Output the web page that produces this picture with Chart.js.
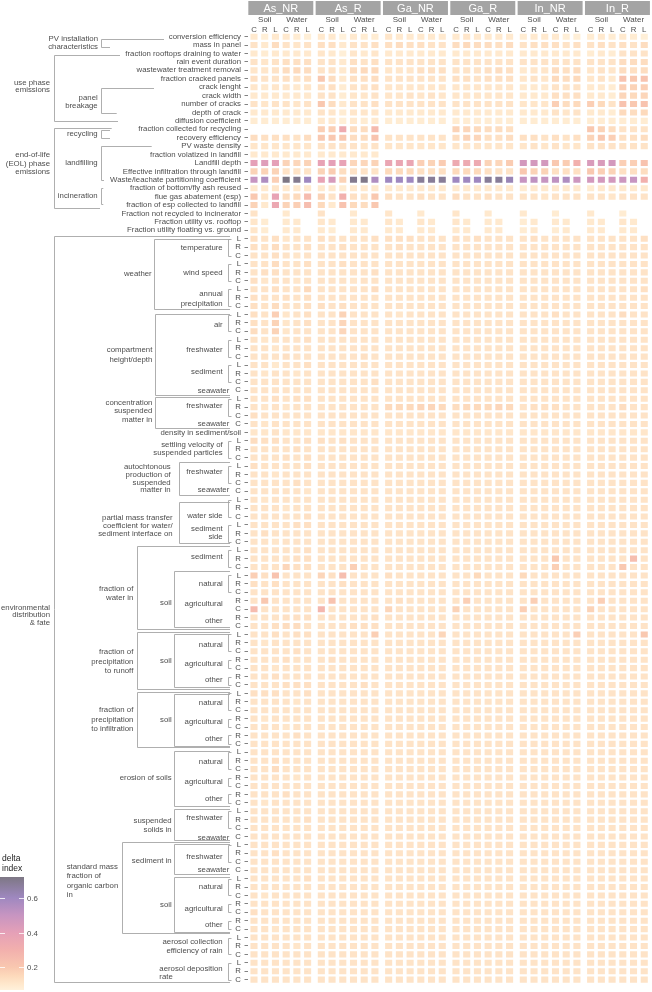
<!DOCTYPE html>
<html><head><meta charset="utf-8">
<script src="https://cdn.jsdelivr.net/npm/chart.js@4.4.1/dist/chart.umd.min.js"></script>
<style>html,body{margin:0;padding:0;background:#fff}canvas{display:block}</style>
</head><body>
<canvas id="c" width="652" height="992"></canvas>
<script>
const _ = null;
const panels = ['As_NR','As_R','Ga_NR','Ga_R','In_NR','In_R'];
const media = ['Soil','Water'];
const subCols = ['C','R','L','C','R','L'];
const rowLabels = [
'conversion efficiency','mass in panel','fraction rooftops draining to water','rain event duration','wastewater treatment removal','fraction cracked panels','crack lenght','crack width','number of cracks','depth of crack','diffusion coefficient','fraction collected for recycling','recovery efficiency','PV waste density','fraction volatized in landfill','Landfill depth','Effective infiltration through landfill','Waste/leachate partitioning coefficient','fraction of bottom/fly ash reused','flue gas abatement (esp)','fraction of esp collected to landfill','Fraction not recycled to incinerator','Fraction utility vs. rooftop','Fraction utility floating vs. ground',
'L','R','C','L','R','C','L','R','C',
'L','R','C','L','R','C','L','R','C','C',
'L','R','C','C',
'density in sediment/soil',
'L','R','C',
'L','R','C','C',
'L','R','C','L','R','C',
'L','R','C','L','R','C','R','C','R','C',
'L','R','C','R','C','R','C',
'L','R','C','R','C','R','C',
'L','R','C','R','C','R','C',
'L','R','C','C',
'L','R','C','C','L','R','C','R','C','R','C',
'L','R','C','L','R','C'];

// delta index per panel: rows (top to bottom) x columns [Soil C,R,L, Water C,R,L]
const As_NR = [
[.10,.08,.10,.10,.09,.08],[.12,.10,.14,.12,.11,.12],[.10,.09,.10,.10,.10,.10],[.12,.11,.12,.13,.13,.13],
[.11,.11,.12,.14,.15,.14],[.13,.12,.12,.13,.12,.13],[.11,.10,.11,.11,.10,.11],[.10,.10,.10,.10,.10,.10],
[.12,.11,.12,.12,.11,.12],[.10,.10,.10,.10,.10,.10],[.09,.09,.09,.09,.09,.09],[_,_,_,_,_,_],
[.14,.13,.13,.13,.12,.14],[.11,.11,.11,.11,.11,.11],[.10,.10,.10,.10,.10,.10],[.40,.42,.40,.17,.16,.17],
[.17,.17,.17,.12,.12,.12],[.50,.56,.18,.72,.70,.60],[.10,.10,.11,.10,.10,.10],[.20,.11,.38,.14,.15,.25],
[.17,.10,.35,.17,.18,.24],[.12,_,_,.10,_,_],[.11,.09,_,.10,.10,_],[.11,.09,_,.10,.10,_],
[.13,.12,.13,.11,.12,.12],[.13,.12,.14,.12,.12,.13],[.12,.12,.13,.12,.11,.12],
[.12,.12,.14,.12,.12,.13],[.12,.13,.13,.12,.12,.12],[.13,.11,.12,.12,.11,.12],
[.12,.12,.13,.12,.12,.15],[.13,.12,.12,.13,.12,.13],[.13,.12,.14,.12,.12,.13],
[.13,.12,.18,.11,.12,.13],[.13,.12,.17,.11,.12,.13],[.14,.12,.17,.11,.12,.12],
[.12,.11,.12,.12,.12,.13],[.12,.12,.11,.12,.12,.12],[.12,.12,.12,.13,.12,.12],
[.12,.12,.10,.12,.12,.13],[.12,.11,.12,.12,.11,.12],[.12,.12,.12,.12,.12,.12],[.12,.12,.12,.12,.12,.12],
[.12,.12,.13,.12,.13,.13],[.12,.11,.12,.11,.12,.12],[.13,.12,.12,.12,.12,.12],[.12,.11,.12,.12,.12,.12],
[.11,.11,.12,.11,.11,.11],
[.14,.13,.13,.12,.12,.13],[.12,.12,.12,.12,.13,.12],[.12,.12,.12,.13,.12,.13],
[.13,.12,.12,.12,.12,.13],[.12,.12,.11,.12,.12,.12],[.12,.12,.12,.12,.13,.12],[.12,.12,.12,.12,.12,.11],
[.12,.11,.12,.12,.12,.12],[.12,.12,.12,.11,.12,.12],[.12,.12,.12,.12,.12,.13],
[.12,.12,.12,.12,.13,.13],[.12,.13,.12,.12,.12,.12],[.12,.12,.11,.12,.12,.12],
[.12,.12,.12,.12,.12,.13],[.12,.12,.12,.12,.13,.13],[.12,.12,.12,.16,.13,.13],
[.18,.13,.22,.12,.12,.12],[.13,.12,.13,.12,.12,.12],[.12,.12,.12,.12,.12,.12],
[.12,.20,.12,.12,.12,.12],[.25,.12,.12,.12,.12,.12],[.12,.12,.12,.13,.13,.13],[.12,.12,.13,.14,.14,.12],
[.12,.12,.13,.12,.13,.13],[.12,.11,.12,.12,.12,.12],[.12,.12,.12,.12,.13,.12],
[.12,.12,.12,.13,.12,.12],[.12,.12,.11,.12,.12,.12],[.12,.12,.13,.12,.12,.12],[.12,.12,.12,.13,.13,.13],
[.13,.13,.13,.12,.12,.13],[.12,.12,.12,.12,.11,.12],[.12,.12,.12,.12,.12,.12],
[.12,.11,.12,.12,.12,.12],[.12,.12,.12,.11,.12,.12],[.12,.12,.12,.12,.13,.12],[.12,.12,.12,.12,.12,.12],
[.12,.12,.12,.12,.12,.12],[.12,.12,.13,.12,.12,.12],[.12,.12,.14,.12,.12,.12],
[.12,.12,.12,.12,.11,.12],[.12,.12,.12,.12,.12,.12],[.12,.12,.12,.13,.12,.12],[.12,.11,.12,.12,.12,.12],
[.12,.12,.12,.12,.12,.12],[.12,.12,.12,.12,.12,.13],[.12,.12,.12,.12,.12,.12],[.12,.12,.12,.12,.12,.12],
[.12,.12,.12,.12,.12,.12],[.12,.12,.13,.12,.12,.12],[.12,.12,.12,.12,.12,.12],[.12,.12,.12,.12,.12,.12],
[.12,.12,.12,.12,.12,.13],[.12,.12,.12,.12,.12,.12],[.12,.11,.12,.12,.12,.12],
[.12,.12,.12,.12,.12,.12],[.13,.12,.12,.12,.12,.12],[.12,.12,.12,.12,.12,.12],[.12,.12,.11,.12,.12,.12],
[.12,.12,.12,.12,.12,.12],[.12,.12,.12,.12,.11,.12],[.12,.12,.12,.12,.12,.12],
[.12,.12,.12,.12,.12,.12],[.12,.12,.12,.12,.12,.12],[.12,.12,.12,.12,.12,.12]];

const As_R = [
[.10,.10,.07,.10,.09,.09],[.13,.13,.10,.12,.12,.13],[.11,.10,.08,.11,.10,.11],[.12,.12,.10,.13,.12,.13],
[.12,.12,.10,.14,.15,.15],[.20,.14,.10,.13,.13,.14],[.13,.13,.09,.12,.12,.13],[.12,.12,.09,.11,.11,.12],
[.20,.14,.10,.12,.12,.13],[.12,.11,.09,.11,.11,.11],[.10,.10,.08,.10,.09,.10],[.18,.18,.33,.14,.14,.26],
[.20,.20,.20,.14,.14,.22],[.12,.12,.12,.12,.11,.12],[.10,.10,.10,.10,.10,.10],[.38,.40,.38,.16,.16,.17],
[.17,.19,.14,.12,.12,.12],[.38,.45,.17,.70,.71,.56],[.10,.10,.09,.10,.10,.10],[.17,.12,.30,.13,.12,.20],
[.15,.10,.22,.15,.14,.20],[.12,_,_,.10,_,_],[.11,.10,_,.10,.10,_],[.10,.09,_,.10,.10,_],
[.13,.12,.12,.12,.12,.13],[.12,.12,.13,.12,.12,.12],[.12,.12,.12,.12,.12,.12],
[.12,.12,.13,.12,.12,.12],[.12,.12,.12,.12,.12,.13],[.12,.12,.12,.11,.12,.12],
[.12,.12,.12,.12,.12,.14],[.12,.12,.12,.12,.12,.12],[.13,.12,.13,.12,.12,.12],
[.12,.12,.17,.12,.12,.12],[.12,.12,.16,.12,.12,.12],[.12,.12,.16,.12,.12,.12],
[.12,.12,.12,.12,.12,.12],[.12,.12,.12,.12,.12,.12],[.12,.12,.12,.12,.13,.12],
[.12,.12,.12,.12,.12,.12],[.12,.12,.12,.12,.12,.12],[.12,.12,.12,.12,.12,.13],[.12,.12,.12,.12,.12,.12],
[.12,.12,.12,.12,.12,.12],[.12,.12,.12,.12,.12,.12],[.12,.12,.12,.12,.12,.12],[.12,.12,.12,.12,.12,.12],
[.11,.11,.11,.11,.11,.11],
[.13,.12,.13,.12,.12,.12],[.12,.12,.12,.12,.12,.12],[.12,.12,.12,.12,.12,.12],
[.12,.12,.12,.12,.12,.12],[.12,.12,.12,.12,.12,.12],[.12,.12,.12,.12,.12,.12],[.12,.12,.12,.12,.12,.12],
[.12,.12,.12,.12,.12,.12],[.12,.12,.12,.12,.12,.12],[.12,.12,.12,.12,.12,.12],
[.12,.12,.12,.12,.12,.12],[.12,.12,.12,.12,.12,.12],[.12,.12,.12,.12,.12,.12],
[.12,.12,.12,.12,.12,.12],[.12,.12,.12,.12,.12,.12],[.12,.12,.12,.18,.12,.12],
[.16,.13,.24,.12,.12,.12],[.12,.12,.13,.12,.12,.12],[.12,.12,.12,.12,.12,.12],
[.12,.22,.12,.12,.12,.12],[.27,.12,.12,.12,.12,.12],[.12,.12,.12,.12,.12,.13],[.12,.12,.12,.13,.13,.13],
[.12,.12,.12,.12,.12,.18],[.12,.12,.12,.12,.12,.12],[.12,.12,.12,.12,.12,.12],
[.12,.13,.12,.12,.12,.12],[.12,.12,.12,.12,.12,.12],[.12,.12,.12,.12,.12,.12],[.12,.12,.12,.12,.13,.12],
[.12,.12,.12,.12,.12,.12],[.12,.12,.12,.12,.12,.12],[.12,.12,.12,.12,.12,.12],
[.12,.12,.12,.12,.12,.12],[.12,.12,.12,.12,.12,.12],[.12,.12,.12,.12,.12,.12],[.12,.12,.12,.12,.12,.12],
[.12,.12,.12,.12,.12,.12],[.12,.12,.12,.12,.12,.12],[.12,.12,.12,.12,.12,.12],
[.12,.12,.12,.12,.12,.12],[.12,.12,.12,.12,.12,.12],[.12,.12,.12,.12,.12,.12],[.12,.12,.12,.12,.12,.12],
[.12,.12,.12,.12,.12,.12],[.12,.12,.12,.12,.12,.12],[.12,.12,.12,.12,.12,.12],[.12,.12,.12,.12,.12,.12],
[.12,.12,.12,.12,.12,.12],[.12,.12,.12,.12,.12,.12],[.12,.12,.12,.12,.12,.12],[.12,.12,.12,.12,.12,.12],
[.12,.12,.12,.12,.12,.12],[.12,.12,.12,.12,.12,.12],[.12,.12,.12,.12,.12,.12],
[.12,.12,.12,.12,.12,.12],[.12,.12,.12,.12,.12,.12],[.12,.12,.12,.12,.12,.12],[.12,.12,.12,.12,.12,.12],
[.12,.12,.12,.12,.12,.12],[.12,.12,.12,.12,.12,.12],[.12,.12,.12,.12,.12,.12],
[.12,.12,.12,.12,.12,.12],[.12,.12,.12,.12,.12,.12],[.12,.12,.12,.12,.12,.12]];

const Ga_NR = [
[.11,.10,.10,.10,.10,.10],[.13,.14,.13,.13,.12,.12],[.10,.10,.10,.10,.10,.10],[.12,.12,.12,.12,.12,.12],
[.11,.11,.11,.13,.13,.13],[.12,.12,.12,.12,.12,.12],[.11,.11,.11,.11,.11,.11],[.11,.11,.12,.11,.12,.11],
[.12,.12,.12,.12,.12,.12],[.10,.10,.10,.10,.10,.10],[.09,.09,.09,.09,.09,.09],[_,_,_,_,_,_],
[.12,.12,.12,.12,.12,.12],[.11,.11,.11,.11,.11,.11],[_,_,_,_,_,_],[.36,.36,.36,.18,.17,.19],
[.15,.15,.15,.13,.13,.13],[.60,.60,.60,.68,.68,.68],[.10,.10,.10,.10,.10,.10],[.13,.12,.12,.13,.12,.12],
[_,_,_,_,_,_],[.11,_,_,.10,_,_],[.11,.10,_,.11,.10,_],[.10,.10,_,.10,.10,_],
[.13,.13,.13,.12,.12,.12],[.12,.13,.12,.12,.12,.12],[.12,.12,.12,.12,.12,.12],
[.12,.12,.12,.12,.12,.12],[.12,.12,.12,.12,.12,.12],[.12,.12,.12,.12,.12,.12],
[.12,.12,.12,.12,.12,.12],[.12,.12,.12,.12,.12,.12],[.12,.12,.12,.12,.12,.12],
[.12,.11,.12,.12,.12,.12],[.12,.12,.12,.12,.12,.12],[.12,.12,.12,.12,.12,.12],
[.12,.12,.12,.12,.12,.12],[.12,.12,.12,.12,.12,.12],[.12,.12,.12,.12,.12,.12],
[.12,.12,.12,.12,.12,.12],[.12,.12,.12,.12,.12,.12],[.12,.12,.12,.12,.12,.12],[.12,.12,.12,.12,.12,.12],
[.12,.12,.12,.12,.12,.12],[.15,.15,.15,.16,.16,.15],[.12,.12,.12,.12,.12,.12],[.12,.12,.12,.12,.12,.12],
[.11,.11,.11,.11,.11,.11],
[.12,.12,.12,.12,.12,.12],[.12,.12,.12,.12,.12,.12],[.12,.12,.12,.12,.12,.12],
[.12,.12,.12,.12,.12,.12],[.12,.12,.12,.12,.12,.12],[.12,.12,.12,.12,.12,.12],[.12,.12,.12,.12,.12,.12],
[.12,.12,.12,.12,.12,.12],[.12,.12,.12,.12,.12,.12],[.12,.12,.12,.12,.12,.12],
[.12,.12,.12,.12,.12,.12],[.12,.12,.12,.12,.12,.12],[.12,.12,.12,.12,.12,.12],
[.12,.12,.12,.12,.12,.12],[.12,.12,.12,.12,.12,.12],[.12,.12,.12,.12,.12,.12],
[.13,.12,.12,.12,.12,.12],[.12,.12,.12,.12,.12,.12],[.12,.12,.12,.12,.12,.12],
[.12,.13,.12,.12,.12,.12],[.16,.12,.12,.12,.12,.12],[.12,.12,.12,.12,.12,.12],[.12,.12,.12,.12,.12,.12],
[.12,.12,.12,.12,.12,.16],[.12,.12,.12,.12,.12,.12],[.12,.12,.12,.12,.12,.12],
[.12,.12,.12,.12,.12,.12],[.12,.12,.12,.12,.12,.12],[.12,.12,.12,.12,.12,.12],[.12,.12,.12,.12,.12,.12],
[.12,.12,.12,.12,.12,.12],[.12,.12,.12,.12,.12,.12],[.12,.12,.12,.12,.12,.12],
[.12,.12,.12,.12,.12,.12],[.12,.12,.12,.12,.12,.12],[.12,.12,.12,.12,.12,.12],[.12,.12,.12,.12,.12,.12],
[.12,.12,.12,.12,.12,.12],[.12,.12,.12,.12,.12,.12],[.12,.12,.12,.12,.12,.12],
[.12,.12,.12,.12,.12,.12],[.12,.12,.12,.12,.12,.12],[.12,.12,.12,.12,.12,.12],[.12,.12,.12,.12,.12,.12],
[.12,.12,.12,.12,.12,.12],[.12,.12,.12,.12,.12,.12],[.12,.12,.12,.12,.12,.12],[.12,.12,.12,.12,.12,.12],
[.12,.12,.12,.12,.12,.12],[.12,.12,.12,.12,.12,.12],[.12,.12,.12,.12,.12,.12],[.12,.12,.12,.12,.12,.12],
[.12,.12,.12,.12,.12,.12],[.12,.12,.12,.12,.12,.12],[.12,.12,.12,.12,.12,.12],
[.12,.12,.12,.12,.12,.12],[.12,.12,.12,.12,.12,.12],[.12,.12,.12,.12,.12,.12],[.12,.12,.12,.12,.12,.12],
[.12,.12,.12,.12,.12,.12],[.12,.12,.12,.12,.12,.12],[.12,.12,.12,.12,.12,.12],
[.12,.12,.12,.12,.12,.12],[.12,.12,.12,.12,.12,.12],[.12,.12,.12,.12,.12,.12]];

const Ga_R = [
[.10,.11,.10,.10,.10,.10],[.14,.15,.14,.14,.13,.14],[.10,.10,.10,.10,.10,.10],[.12,.12,.12,.12,.12,.12],
[.12,.12,.12,.13,.14,.13],[.13,.13,.12,.13,.13,.13],[.11,.11,.11,.11,.11,.11],[.11,.11,.11,.11,.11,.11],
[.12,.12,.12,.12,.12,.12],[.10,.10,.10,.10,.10,.10],[.09,.09,.09,.09,.09,.09],[.17,.16,.15,.14,.14,.13],
[.14,.17,.16,.13,.13,.14],[.11,.11,.11,.11,.11,.11],[_,_,_,_,_,_],[.34,.34,.34,.17,.16,.19],
[.15,.15,.15,.13,.12,.12],[.60,.60,.60,.68,.68,.62],[.10,.10,.10,.10,.10,.10],[.14,.12,.12,.13,.12,.12],
[_,_,_,_,_,_],[.11,_,_,.10,_,_],[.11,.10,_,.10,.10,_],[.10,.10,_,.10,.10,_],
[.13,.12,.13,.12,.12,.12],[.12,.12,.12,.12,.12,.12],[.12,.12,.12,.12,.12,.12],
[.12,.12,.12,.12,.12,.12],[.12,.12,.12,.12,.12,.12],[.12,.12,.12,.12,.12,.12],
[.12,.12,.12,.12,.12,.12],[.12,.12,.12,.12,.12,.12],[.12,.12,.12,.12,.12,.12],
[.12,.12,.12,.12,.12,.12],[.12,.12,.12,.12,.12,.12],[.12,.12,.12,.12,.12,.12],
[.12,.12,.12,.12,.12,.12],[.12,.12,.12,.12,.12,.12],[.12,.12,.12,.12,.12,.12],
[.12,.12,.12,.12,.12,.12],[.12,.12,.12,.12,.12,.12],[.12,.12,.12,.12,.12,.12],[.12,.12,.12,.12,.12,.12],
[.12,.12,.12,.12,.12,.12],[.14,.15,.15,.15,.16,.15],[.12,.12,.12,.12,.12,.12],[.12,.12,.12,.12,.12,.12],
[.11,.11,.11,.11,.11,.11],
[.12,.12,.12,.12,.12,.12],[.12,.12,.12,.12,.12,.12],[.12,.12,.12,.12,.12,.12],
[.12,.12,.12,.12,.12,.12],[.12,.12,.12,.12,.12,.12],[.12,.12,.12,.12,.12,.12],[.12,.12,.12,.12,.12,.12],
[.12,.12,.12,.12,.12,.12],[.12,.12,.12,.12,.12,.12],[.12,.12,.12,.12,.12,.12],
[.12,.12,.12,.12,.12,.12],[.12,.12,.12,.12,.12,.12],[.12,.12,.12,.12,.12,.12],
[.12,.12,.12,.12,.12,.12],[.12,.12,.12,.12,.12,.12],[.12,.12,.12,.12,.12,.12],
[.12,.12,.15,.12,.12,.12],[.12,.12,.12,.12,.12,.12],[.12,.12,.12,.12,.12,.12],
[.12,.18,.12,.12,.12,.12],[.17,.12,.12,.12,.12,.12],[.12,.12,.12,.12,.12,.12],[.12,.12,.12,.12,.12,.12],
[.12,.12,.12,.12,.12,.12],[.12,.12,.12,.12,.12,.12],[.12,.12,.12,.12,.12,.12],
[.12,.12,.12,.12,.12,.12],[.12,.12,.12,.12,.12,.12],[.12,.12,.12,.12,.12,.12],[.12,.12,.12,.12,.12,.12],
[.12,.12,.12,.12,.12,.12],[.12,.12,.12,.12,.12,.12],[.12,.12,.12,.12,.12,.12],
[.12,.12,.12,.12,.12,.12],[.12,.12,.12,.12,.12,.12],[.12,.12,.12,.12,.12,.12],[.12,.12,.12,.12,.12,.12],
[.12,.12,.12,.12,.12,.12],[.12,.12,.12,.12,.12,.12],[.12,.12,.12,.12,.12,.12],
[.12,.12,.12,.12,.12,.12],[.12,.12,.12,.12,.12,.12],[.12,.12,.12,.12,.12,.12],[.12,.12,.12,.12,.12,.12],
[.12,.12,.12,.12,.12,.12],[.12,.12,.12,.12,.12,.12],[.12,.12,.12,.12,.12,.12],[.12,.12,.12,.12,.12,.12],
[.12,.12,.12,.12,.12,.12],[.12,.12,.12,.12,.12,.12],[.12,.12,.12,.12,.12,.12],[.12,.12,.12,.12,.12,.12],
[.12,.12,.12,.12,.12,.12],[.12,.12,.12,.12,.12,.12],[.12,.12,.12,.12,.12,.12],
[.12,.12,.12,.12,.12,.12],[.12,.12,.12,.12,.12,.12],[.12,.12,.12,.12,.12,.12],[.12,.12,.12,.12,.12,.12],
[.12,.12,.12,.12,.12,.12],[.12,.12,.12,.12,.12,.12],[.12,.12,.12,.12,.12,.12],
[.12,.12,.12,.12,.12,.12],[.12,.12,.12,.12,.12,.12],[.12,.12,.12,.12,.12,.12]];

const In_NR = [
[.09,.10,.10,.10,.08,.08],[.12,.13,.13,.13,.12,.13],[.10,.10,.10,.10,.10,.10],[.12,.12,.12,.12,.12,.12],
[.10,.11,.11,.14,.13,.14],[.11,.12,.11,.15,.14,.15],[.10,.10,.10,.12,.12,.12],[.10,.10,.10,.13,.13,.13],
[.11,.11,.11,.18,.14,.15],[.10,.10,.10,.12,.11,.12],[.09,.09,.09,.09,.09,.09],[_,_,_,_,_,_],
[.13,.13,.12,.13,.12,.13],[.11,.12,.11,.12,.11,.11],[_,_,_,_,_,_],[.46,.46,.46,.20,.19,.30],
[.20,.17,.17,.13,.13,.13],[.50,.52,.50,.52,.56,.48],[.09,.10,.10,.10,.10,.10],[.12,.12,.11,.12,.12,.12],
[_,_,_,_,_,_],[.10,_,_,.09,_,_],[.09,.10,_,.10,.10,_],[.09,.10,_,.09,.10,_],
[.12,.13,.12,.12,.12,.12],[.12,.12,.12,.12,.12,.12],[.12,.12,.12,.12,.12,.12],
[.12,.12,.12,.12,.12,.12],[.12,.12,.12,.12,.12,.12],[.12,.12,.12,.12,.12,.12],
[.12,.12,.12,.12,.12,.12],[.12,.12,.12,.12,.12,.12],[.12,.12,.12,.12,.12,.12],
[.12,.12,.12,.13,.12,.12],[.12,.12,.12,.12,.12,.12],[.12,.12,.12,.12,.12,.12],
[.12,.12,.12,.12,.12,.12],[.12,.12,.12,.12,.12,.12],[.12,.12,.12,.12,.12,.12],
[.12,.12,.12,.12,.12,.12],[.12,.12,.12,.12,.12,.12],[.12,.12,.12,.12,.12,.12],[.12,.12,.12,.12,.12,.12],
[.12,.12,.12,.12,.12,.12],[.12,.13,.13,.13,.12,.12],[.12,.12,.12,.12,.12,.12],[.12,.12,.12,.12,.12,.12],
[.11,.11,.11,.11,.11,.11],
[.12,.12,.12,.12,.12,.12],[.12,.12,.12,.12,.12,.12],[.12,.12,.12,.12,.12,.12],
[.12,.12,.12,.12,.12,.12],[.12,.12,.12,.12,.12,.12],[.12,.12,.12,.12,.12,.12],[.12,.12,.12,.12,.12,.12],
[.12,.12,.12,.12,.12,.12],[.12,.12,.12,.12,.12,.12],[.12,.12,.12,.12,.12,.12],
[.12,.12,.12,.12,.12,.12],[.12,.12,.12,.12,.12,.12],[.12,.12,.12,.12,.12,.12],
[.12,.12,.12,.12,.12,.12],[.12,.12,.12,.20,.12,.12],[.12,.12,.12,.18,.12,.12],
[.15,.12,.12,.12,.12,.12],[.12,.12,.12,.12,.12,.12],[.12,.12,.12,.12,.12,.12],
[.12,.18,.12,.12,.12,.12],[.18,.12,.12,.12,.12,.12],[.12,.12,.12,.12,.12,.12],[.12,.12,.12,.12,.12,.12],
[.12,.12,.12,.12,.12,.18],[.12,.12,.12,.12,.12,.12],[.12,.12,.12,.12,.12,.12],
[.12,.12,.12,.12,.12,.12],[.12,.12,.12,.12,.12,.12],[.12,.12,.12,.12,.12,.12],[.12,.12,.12,.12,.12,.12],
[.12,.12,.12,.12,.12,.12],[.12,.12,.12,.12,.12,.12],[.12,.12,.12,.12,.12,.12],
[.12,.12,.12,.12,.12,.12],[.12,.12,.12,.12,.12,.12],[.12,.12,.12,.12,.12,.12],[.12,.12,.12,.12,.12,.12],
[.12,.12,.12,.12,.12,.12],[.12,.12,.12,.12,.12,.12],[.12,.12,.12,.12,.12,.12],
[.12,.12,.12,.12,.12,.12],[.12,.12,.12,.12,.12,.12],[.12,.12,.12,.12,.12,.12],[.12,.12,.12,.12,.12,.12],
[.12,.12,.12,.12,.12,.12],[.12,.12,.12,.12,.12,.12],[.12,.12,.12,.12,.12,.12],[.12,.12,.12,.12,.12,.12],
[.12,.12,.12,.12,.12,.12],[.12,.12,.12,.12,.12,.12],[.12,.12,.12,.12,.12,.12],[.12,.12,.12,.12,.12,.12],
[.12,.12,.12,.12,.12,.12],[.12,.12,.12,.12,.12,.12],[.12,.12,.12,.12,.12,.12],
[.12,.12,.12,.12,.12,.12],[.12,.12,.12,.12,.12,.12],[.12,.12,.12,.12,.12,.12],[.12,.12,.12,.12,.12,.12],
[.12,.12,.12,.12,.12,.12],[.12,.12,.12,.12,.12,.12],[.12,.12,.12,.12,.12,.12],
[.12,.12,.12,.12,.12,.12],[.12,.12,.12,.12,.12,.12],[.12,.12,.12,.12,.12,.12]];

const In_R = [
[.09,.10,.09,.10,.09,.08],[.12,.13,.12,.13,.12,.14],[.09,.10,.09,.12,.12,.12],[.12,.12,.12,.14,.14,.14],
[.11,.12,.11,.14,.13,.14],[.11,.12,.10,.22,.20,.22],[.10,.10,.09,.18,.17,.18],[.10,.10,.09,.16,.15,.16],
[.18,.15,.12,.22,.20,.22],[.10,.10,.09,.15,.14,.15],[.09,.09,.09,.09,.09,.09],[.20,.17,.14,.12,.12,.12],
[.17,.20,.18,.13,.13,.14],[.12,.12,.12,.12,.12,.12],[_,_,_,_,_,_],[.44,.44,.46,.18,.18,.22],
[.20,.18,.17,.13,.13,.14],[.46,.46,.46,.48,.50,.30],[.09,.10,.10,.10,.10,.10],[.12,.12,.11,.12,.12,.12],
[_,_,_,_,_,_],[.10,_,_,.09,_,_],[.10,.10,_,.11,.10,_],[.10,.10,_,.10,.10,_],
[.12,.12,.12,.12,.12,.13],[.12,.12,.12,.12,.12,.12],[.12,.12,.12,.12,.12,.12],
[.12,.12,.12,.12,.12,.12],[.12,.12,.12,.12,.12,.12],[.12,.12,.12,.12,.12,.12],
[.12,.12,.12,.12,.12,.13],[.12,.12,.12,.12,.12,.12],[.12,.12,.12,.12,.12,.12],
[.12,.12,.12,.14,.12,.12],[.12,.12,.12,.12,.12,.12],[.12,.12,.12,.12,.12,.12],
[.12,.12,.12,.12,.12,.12],[.12,.12,.12,.12,.12,.12],[.12,.12,.12,.12,.12,.12],
[.12,.12,.12,.12,.12,.12],[.12,.12,.12,.12,.12,.12],[.12,.12,.12,.12,.12,.12],[.12,.12,.12,.12,.12,.12],
[.12,.12,.12,.12,.12,.12],[.12,.12,.12,.14,.12,.12],[.12,.12,.12,.12,.12,.12],[.12,.12,.12,.12,.12,.12],
[.11,.11,.11,.11,.11,.11],
[.12,.12,.12,.12,.12,.12],[.12,.12,.12,.12,.12,.12],[.12,.12,.12,.12,.12,.12],
[.12,.12,.12,.12,.12,.12],[.12,.12,.12,.12,.12,.12],[.12,.12,.12,.12,.12,.12],[.12,.12,.12,.12,.12,.12],
[.12,.12,.12,.12,.12,.12],[.12,.12,.12,.12,.12,.12],[.12,.12,.12,.12,.12,.12],
[.12,.12,.12,.12,.12,.12],[.12,.12,.12,.12,.12,.12],[.12,.12,.12,.12,.12,.12],
[.12,.12,.12,.12,.12,.12],[.12,.12,.12,.12,.24,.12],[.12,.12,.12,.20,.12,.12],
[.12,.12,.12,.12,.12,.12],[.12,.12,.12,.12,.12,.12],[.12,.12,.12,.12,.12,.12],
[.12,.18,.12,.12,.12,.12],[.17,.12,.12,.12,.12,.12],[.12,.12,.12,.12,.12,.12],[.12,.12,.12,.12,.12,.12],
[.12,.12,.12,.12,.12,.20],[.12,.12,.12,.12,.12,.12],[.12,.12,.12,.12,.12,.12],
[.12,.12,.12,.12,.12,.12],[.12,.12,.12,.12,.12,.12],[.12,.12,.12,.12,.12,.12],[.12,.12,.12,.12,.12,.12],
[.12,.12,.12,.12,.12,.12],[.12,.12,.12,.12,.12,.12],[.12,.12,.12,.12,.12,.12],
[.12,.12,.12,.12,.12,.12],[.12,.12,.12,.12,.12,.12],[.12,.12,.12,.12,.12,.12],[.12,.12,.12,.12,.12,.12],
[.12,.12,.12,.12,.12,.12],[.12,.12,.12,.12,.12,.12],[.12,.12,.12,.12,.12,.12],
[.12,.12,.12,.12,.12,.12],[.12,.12,.12,.12,.12,.12],[.12,.12,.12,.12,.12,.12],[.12,.12,.12,.12,.12,.12],
[.12,.12,.12,.12,.12,.12],[.12,.12,.12,.12,.12,.12],[.12,.12,.12,.12,.12,.12],[.12,.12,.12,.12,.12,.12],
[.12,.12,.12,.12,.12,.12],[.12,.12,.12,.12,.12,.12],[.12,.12,.12,.12,.12,.12],[.12,.12,.12,.12,.12,.12],
[.12,.12,.12,.12,.12,.12],[.12,.12,.12,.12,.12,.12],[.12,.12,.12,.12,.12,.12],
[.12,.12,.12,.12,.12,.12],[.12,.12,.12,.12,.12,.12],[.12,.12,.12,.12,.12,.12],[.12,.12,.12,.12,.12,.12],
[.12,.12,.12,.12,.12,.12],[.12,.12,.12,.12,.12,.12],[.12,.12,.12,.12,.12,.12],
[.12,.12,.12,.12,.12,.12],[.12,.12,.12,.12,.12,.12],[.12,.12,.12,.12,.12,.12]];

const legendTicks = [0.2, 0.4, 0.6];

// ---------- styling / layout (not data) ----------
const FONT = '"Liberation Sans", Arial, Helvetica, sans-serif';
const TXT = '#4d4d4d';
const LINE = '#a6a6a6';
const PSTEP = 6.28, HALF = 0.33;
const stops = [[0.05,[255,247,228]],[0.10,[255,233,206]],[0.15,[253,218,188]],[0.20,[249,200,176]],
  [0.30,[242,176,173]],[0.40,[229,160,183]],[0.50,[199,149,193]],[0.60,[159,136,192]],[0.72,[125,119,132]]];
function colorFor(v){
  if (v <= stops[0][0]) return 'rgb('+stops[0][1].join(',')+')';
  for (let i=1;i<stops.length;i++){
    if (v <= stops[i][0]){
      const [a,ca]=stops[i-1],[b,cb]=stops[i],t=(v-a)/(b-a);
      return 'rgb('+ca.map((x,j)=>Math.round(x+(cb[j]-x)*t)).join(',')+')';
    }
  }
  return 'rgb('+stops[stops.length-1][1].join(',')+')';
}
const panelData = [As_NR, As_R, Ga_NR, Ga_R, In_NR, In_R];
const colPos = [];
panels.forEach((p,k)=>{ for(let c=0;c<6;c++) colPos.push(k*PSTEP+c); });
const datasets = [];
panelData.forEach((pd,k)=>{
  for (let c=0;c<6;c++){
    const pos = k*PSTEP + c;
    datasets.push({
      data: pd.map(r => r[c]==null ? null : [pos-HALF, pos+HALF]),
      backgroundColor: pd.map(r => r[c]==null ? 'rgba(0,0,0,0)' : colorFor(r[c])),
      borderWidth: 0, grouped: false, barPercentage: 0.72, categoryPercentage: 1
    });
  }
});
let allVals = []; panelData.forEach(pd=>pd.forEach(r=>r.forEach(v=>{ if(v!=null) allVals.push(v); })));
const vMin = Math.min(...allVals), vMax = Math.max(...allVals);

// annotation geometry in row-index units
const labels = [
 [['PV installation','characteristics'],98,'right',0.74,7.4],
 [['use phase','emissions'],50,'right',5.93,7.4],
 [['panel','breakage'],97.7,'right',7.76,8.4],
 [['recycling'],97.7,'right',11.59,8],
 [['end-of-life','(EOL) phase','emissions'],50,'right',15.05,8.3],
 [['landfilling'],97.7,'right',15.01,8],
 [['incineration'],97.7,'right',18.94,8],
 [['environmental','distribution','& fate'],50,'right',68.7,7.7],
 [['weather'],151.7,'right',28.18,8],
 [['temperature'],222.7,'right',25.04,8],
 [['wind speed'],222.7,'right',28.07,8],
 [['annual','precipitation'],222.7,'right',31.13,9.3],
 [['compartment','height/depth'],152.3,'right',37.77,9.4],
 [['air'],222.7,'right',34.2,8],
 [['freshwater'],222.7,'right',37.18,8],
 [['sediment'],222.7,'right',39.86,8],
 [['seawater'],229.3,'right',42.05,8],
 [['concentration','suspended','matter in'],152.3,'right',44.5,8.2],
 [['freshwater'],222.7,'right',43.87,8],
 [['seawater'],229.3,'right',45.99,8],
 [['settling velocity of','suspended particles'],222.7,'right',48.95,8.3],
 [['autochtonous','production of','suspended','matter in'],170.7,'right',52.48,7.8],
 [['freshwater'],222.7,'right',51.69,8],
 [['seawater'],229.3,'right',53.77,8],
 [['partial mass transfer','coefficient for water/','sediment interface on'],172.7,'right',58.09,7.7],
 [['water side'],222.7,'right',56.91,8],
 [['sediment','side'],222.7,'right',58.92,8],
 [['fraction of','water in'],133.3,'right',66.1,9.3],
 [['sediment'],222.7,'right',61.75,8],
 [['soil'],171.7,'right',67.22,8],
 [['natural'],222.7,'right',65.05,8],
 [['agricultural'],222.7,'right',67.41,8],
 [['other'],222.7,'right',69.38,8],
 [['fraction of','precipitation','to runoff'],133.3,'right',74.2,9.3],
 [['soil'],171.7,'right',74.17,8],
 [['natural'],222.7,'right',72.24,8],
 [['agricultural'],222.7,'right',74.48,8],
 [['other'],222.7,'right',76.42,8],
 [['fraction of','precipitation','to infiltration'],133.3,'right',81.09,9.4],
 [['soil'],171.7,'right',81.17,8],
 [['natural'],222.7,'right',79.13,8],
 [['agricultural'],222.7,'right',81.44,8],
 [['other'],222.7,'right',83.44,8],
 [['erosion of soils'],171.7,'right',88.09,8],
 [['natural'],222.7,'right',86.09,8],
 [['agricultural'],222.7,'right',88.56,8],
 [['other'],222.7,'right',90.52,8],
 [['suspended','solids in'],171.7,'right',93.7,9.3],
 [['freshwater'],222.7,'right',92.84,8],
 [['seawater'],229.3,'right',95.12,8],
 [['standard mass','fraction of','organic carbon','in'],66.7,'left',100.27,9.4],
 [['sediment in'],171.7,'right',97.88,8],
 [['freshwater'],222.7,'right',97.36,8],
 [['seawater'],229.3,'right',98.97,8],
 [['soil'],171.7,'right',103.1,8],
 [['natural'],222.7,'right',100.94,8],
 [['agricultural'],222.7,'right',103.57,8],
 [['other'],222.7,'right',105.46,8],
 [['aerosol collection','efficiency of rain'],222.7,'right',108.05,9.4],
 [['aerosol deposition','rate'],159.3,'left',111.2,8.3]
];
const brackets = [
 [100.7,0.31,1.18,164,110],[54.3,2.16,10.02,120,118],[100.7,6.08,9.03,154,116.7],
 [54.3,10.8,20.32,111.7,100],[100.7,11.08,11.98,110,110],[100.7,12.97,16.98,151.7,104],[100.7,18.0,19.93,103.3,103.3],
 [54.3,23.66,112.34,230,230],[154.3,24.0,32.3,230,230],[155,32.9,42.57,230,230],[155,42.76,46.5,230,230],
 [179.3,50.47,54.43,230,230],[179.3,55.23,60.14,230,230],[137,60.5,70.35,230,230],[174.3,63.5,70.17,230,230],
 [137,70.7,77.43,230,230],[174.3,70.94,77.24,230,230],[137,77.83,84.43,230,230],[174.3,78.07,84.23,230,230],
 [174.3,84.9,91.4,230,230],[174.3,91.7,95.44,230,230],[122.3,95.7,106.5,230,230],[174.3,95.9,99.4,230,230],
 [174.3,99.8,106.3,230,230]
];
const leafRanges = [[24,26],[27,29],[30,32],[33,35],[36,38],[39,41],[43,45],[48,50],[51,53],[55,57],[58,60],[61,63],[64,66],
 [71,73],[74,75],[76,77],[78,80],[81,82],[83,84],[85,87],[88,89],[90,91],[92,94],[96,98],[100,102],[103,104],[105,106],[107,109],[110,112]];

const annot = {
  id: 'annot',
  afterDraw(chart){
    const ctx = chart.ctx, ys = chart.scales.y, xs = chart.scales.x;
    const Y = i => ys.getPixelForValue(i), X = v => xs.getPixelForValue(v);
    ctx.save();
    // facet strips
    panels.forEach((p,k)=>{
      const x0 = X(k*PSTEP-0.53), x1 = X(k*PSTEP+5.53);
      ctx.fillStyle = '#a4a4a4'; ctx.fillRect(x0, 1, x1-x0, 14);
      ctx.fillStyle = '#ffffff'; ctx.font = '11px '+FONT; ctx.textAlign='center'; ctx.textBaseline='middle';
      ctx.fillText(p, (x0+x1)/2, 8.5);
      media.forEach((m,j)=>{
        ctx.fillStyle = TXT; ctx.font = '8px '+FONT;
        ctx.fillText(m, X(k*PSTEP + j*3 + 1), 19.8);
      });
    });
    // brackets
    ctx.strokeStyle = LINE; ctx.lineWidth = 0.9;
    const drawB = (x, a, b, e0, e1) => {
      const y0 = Math.round(Y(a))+0.5, y1 = Math.round(Y(b))+0.5, xx = Math.round(x)+0.5;
      ctx.beginPath(); ctx.moveTo(e0, y0); ctx.lineTo(xx, y0); ctx.lineTo(xx, y1); ctx.lineTo(e1, y1); ctx.stroke();
    };
    brackets.forEach(b => drawB(...b));
    leafRanges.forEach(([a,b]) => drawB(228.3, a, b, 231.5, 231.5));
    // labels
    ctx.fillStyle = TXT; ctx.font = '7.8px '+FONT; ctx.textBaseline = 'middle';
    labels.forEach(([lines, x, align, yi, lh])=>{
      ctx.textAlign = align;
      const yc = Y(yi), n = lines.length;
      lines.forEach((t,i)=> ctx.fillText(t, x, yc + (i-(n-1)/2)*lh));
    });
    // colour bar legend
    const top = 877, bot = 990, bx = 0, bw = 24;
    const vy = v => bot - (v - vMin)/(vMax - vMin)*(bot-top);
    const g = ctx.createLinearGradient(0, bot, 0, top);
    stops.forEach(([v,c])=>{ const t=(v-vMin)/(vMax-vMin); if(t>=0&&t<=1) g.addColorStop(t,'rgb('+c.join(',')+')'); });
    g.addColorStop(0, colorFor(vMin)); g.addColorStop(1, colorFor(vMax));
    ctx.fillStyle = g; ctx.fillRect(bx, top, bw, bot-top);
    ctx.strokeStyle = '#ffffff'; ctx.lineWidth = 0.8;
    ctx.fillStyle = TXT; ctx.font = '7.8px '+FONT; ctx.textAlign='left'; ctx.textBaseline='middle';
    legendTicks.forEach(v=>{
      const y = Math.round(vy(v))+0.5;
      ctx.beginPath(); ctx.moveTo(bx, y); ctx.lineTo(bx+5, y); ctx.moveTo(bx+bw-5, y); ctx.lineTo(bx+bw, y); ctx.stroke();
      ctx.fillText(v.toFixed(1), bx+bw+3, y);
    });
    ctx.fillStyle = '#1a1a1a'; ctx.font = '8.5px '+FONT;
    ctx.fillText('delta', 2, 858.5); ctx.fillText('index', 2, 868.5);
    ctx.restore();
  }
};

new Chart(document.getElementById('c'), {
  type: 'bar',
  data: { labels: rowLabels, datasets },
  options: {
    indexAxis: 'y', responsive: false, animation: false, devicePixelRatio: 1,
    layout: { padding: { left: 0, top: 0, right: 4, bottom: 1.3 } },
    plugins: { legend: { display: false }, tooltip: { enabled: false } },
    scales: {
      y: {
        type: 'category', offset: true,
        grid: { display: true, drawOnChartArea: false, drawTicks: true, tickLength: 3.5, color: TXT, lineWidth: 0.7, offset: false },
        border: { display: false },
        ticks: { autoSkip: false, color: TXT, font: { size: 7.8, family: FONT }, padding: 3.5 },
        afterFit: s => { s.width = 248; }
      },
      x: {
        type: 'linear', position: 'top', min: -0.56, max: 36.75,
        grid: { display: false, drawTicks: false }, border: { display: false },
        afterBuildTicks: s => { s.ticks = colPos.map(v => ({ value: v })); },
        ticks: { autoSkip: false, maxRotation: 0, color: TXT, font: { size: 7.8, family: FONT }, padding: -2,
                 callback: (v, i) => subCols[i % 6] },
        afterFit: s => { s.height = 32.46; }
      }
    }
  },
  plugins: [annot]
});
</script>
</body></html>
